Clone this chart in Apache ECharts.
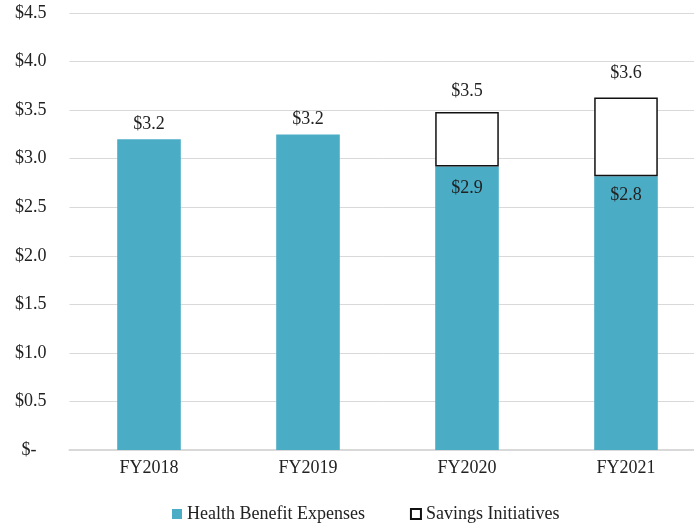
<!DOCTYPE html>
<html>
<head>
<meta charset="utf-8">
<script src="https://cdn.jsdelivr.net/npm/echarts@6/dist/echarts.min.js"></script>
<style>
  html, body { margin: 0; padding: 0; background: #fff; }
  #chart { width: 694px; height: 529px; }
</style>
</head>
<body>
<div id="chart"></div>
<script>
var categories = ['FY2018', 'FY2019', 'FY2020', 'FY2021'];
var healthValues = [3.2, 3.25, 2.92, 2.82];
var savingsValues = [null, null, 0.56, 0.81];
var healthLabels = ['$3.2', '$3.2', '$2.9', '$2.8'];
var totalLabels = ['', '', '$3.5', '$3.6'];
var yTicks = [0, 0.5, 1, 1.5, 2, 2.5, 3, 3.5, 4, 4.5];

var chartDom = document.getElementById('chart');
var myChart = echarts.init(chartDom);
var font = '"Liberation Serif", "DejaVu Serif", serif';
var fs = 18;
var insideGap = [0, 0, 13, 10];
var topGap = [6, 6, 12, 15];

// FY2018/19 labels sit above the bar, FY2020/21 inside the top of the teal part
var healthData = healthValues.map(function (v, i) {
  var inside = savingsValues[i] != null;
  return {
    value: v,
    label: {
      position: inside ? 'insideTop' : 'top',
      distance: inside ? insideGap[i] : topGap[i]
    }
  };
});

var savingsData = savingsValues.map(function (v, i) {
  return { value: v, label: { distance: topGap[i] } };
});

var option = {
  animation: false,
  // the original plot area runs past the right edge of the image
  grid: { left: 69.5, width: 636, top: 13, bottom: 79, outerBoundsMode: 'none' },
  legend: {
    bottom: 1,
    left: 167,
    itemWidth: 10,
    itemHeight: 10,
    itemGap: 45,
    textStyle: { fontFamily: font, fontSize: fs, color: '#222' },
    data: [
      { name: 'Health Benefit Expenses', icon: 'rect' },
      { name: 'Savings Initiatives', icon: 'rect' }
    ]
  },
  xAxis: {
    type: 'category',
    data: categories,
    axisTick: { show: false },
    axisLine: { lineStyle: { color: '#d9d9d9', width: 2 } },
    axisLabel: { fontFamily: font, fontSize: fs, color: '#222', margin: 9 }
  },
  yAxis: {
    type: 'value',
    min: 0,
    max: yTicks[yTicks.length - 1],
    interval: 0.5,
    splitLine: { lineStyle: { color: '#d9d9d9', width: 1 } },
    axisLabel: {
      fontFamily: font,
      fontSize: fs,
      color: '#222',
      margin: 23,
      formatter: function (v) {
        return v === 0 ? '{d|$-}' : '$' + v.toFixed(1);
      },
      rich: {
        d: { fontFamily: font, fontSize: fs, color: '#222', padding: [0, 10, 0, 0] }
      }
    }
  },
  series: [
    {
      name: 'Health Benefit Expenses',
      type: 'bar',
      stack: 'total',
      barWidth: '40%',
      itemStyle: { color: '#4bacc6' },
      label: {
        show: true,
        fontFamily: font,
        fontSize: fs,
        color: '#222',
        formatter: function (p) { return healthLabels[p.dataIndex]; }
      },
      data: healthData
    },
    {
      name: 'Savings Initiatives',
      type: 'bar',
      stack: 'total',
      barWidth: '40%',
      itemStyle: { color: '#ffffff', borderColor: '#111', borderWidth: 1.5 },
      label: {
        show: true,
        position: 'top',
        fontFamily: font,
        fontSize: fs,
        color: '#222',
        formatter: function (p) { return totalLabels[p.dataIndex]; }
      },
      data: savingsData
    }
  ]
};

myChart.setOption(option);
</script>
</body>
</html>
